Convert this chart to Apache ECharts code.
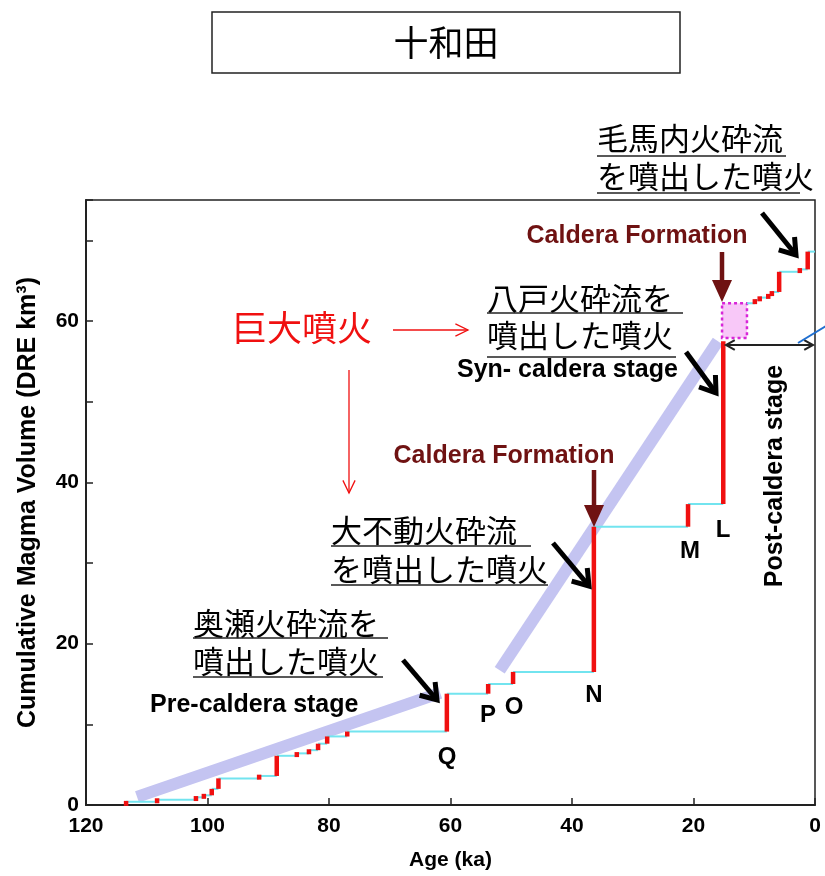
<!DOCTYPE html>
<html>
<head>
<meta charset="utf-8">
<script src="https://cdn.jsdelivr.net/npm/echarts@6/dist/echarts.min.js"></script>
<style>
html,body{margin:0;padding:0;background:#fff;}
#chart{width:825px;height:876px;}
</style>
</head>
<body>
<div id="chart"></div>
<script>
// ---- Data ----
// Pre-caldera + syn-caldera eruptions: age (ka) and cumulative volume after the eruption (DRE km3)
const preSynAges = [113.4, 108.3, 101.9, 100.6, 99.3, 98.2, 91.5, 88.6, 85.3, 83.3, 81.8, 80.3, 77.0, 60.6, 53.8, 49.7, 36.4, 20.9, 15.1];
const preSynVols = [0.4, 0.65, 0.95, 1.2, 2.0, 3.3, 3.6, 6.1, 6.4, 6.8, 7.6, 8.5, 9.1, 13.8, 15.0, 16.5, 34.5, 37.3, 57.5];
// Caldera formation uncertainty box
const boxAges = [15.3, 11.2];
const boxVols = [57.9, 62.2];
// Post-caldera eruptions
const postStartAge = 11.2;
const postStartVol = 62.2;
const postAges = [9.9, 9.1, 7.7, 7.1, 5.9, 2.5, 1.2];
const postVols = [62.6, 62.9, 63.2, 63.6, 66.1, 66.4, 68.6];
const endAge = 0;
// Trend lines
const preTrendAges = [111.6, 61.7];
const preTrendVols = [1.0, 13.9];
const synTrendAges = [51.9, 16.0];
const synTrendVols = [16.7, 57.5];
// Axis ticks
const xTickLabels = [120, 100, 80, 60, 40, 20, 0];
const yTickLabels = [0, 20, 40, 60];

// ---- Build segments ----
const redSegs = [];
const cyanSegs = [];
let prev = 0;
preSynAges.forEach((a, i) => {
  redSegs.push([a, prev, a, preSynVols[i]]);
  prev = preSynVols[i];
  if (i < preSynAges.length - 1) cyanSegs.push([a, preSynVols[i], preSynAges[i + 1], preSynVols[i]]);
});
cyanSegs.push([postStartAge, postStartVol, postAges[0], postStartVol]);
prev = postStartVol;
postAges.forEach((a, i) => {
  redSegs.push([a, prev, a, postVols[i]]);
  prev = postVols[i];
  const next = i < postAges.length - 1 ? postAges[i + 1] : endAge;
  cyanSegs.push([a, postVols[i], next, postVols[i]]);
});

function segRender(color, width, minLen) {
  return function (params, api) {
    const p1 = api.coord([api.value(0), api.value(1)]);
    const p2 = api.coord([api.value(2), api.value(3)]);
    let y1 = p1[1], y2 = p2[1];
    if (minLen && Math.abs(y2 - y1) < minLen) {
      const m = (y1 + y2) / 2;
      y1 = m + minLen / 2; y2 = m - minLen / 2;
    }
    return {type: 'line', shape: {x1: p1[0], y1: y1, x2: p2[0], y2: y2},
      style: {stroke: color, lineWidth: width, lineCap: 'butt'}};
  };
}

const LAT = "'Liberation Sans', Arial, sans-serif";
const JP = "'Noto Sans CJK JP', sans-serif";

// ---- annotation helpers ----
function chevron(tx, ty, fx, fy, len, ang, color, w) {
  const a = Math.atan2(ty - fy, tx - fx);
  const p1 = [tx - len * Math.cos(a - ang), ty - len * Math.sin(a - ang)];
  const p2 = [tx - len * Math.cos(a + ang), ty - len * Math.sin(a + ang)];
  return {type: 'polyline', shape: {points: [p1, [tx, ty], p2]},
    style: {stroke: color, lineWidth: w, fill: null, lineJoin: 'miter'}, z: 100};
}
function arrow(fx, fy, tx, ty, color, w, len, ang) {
  return [
    {type: 'line', shape: {x1: fx, y1: fy, x2: tx, y2: ty}, style: {stroke: color, lineWidth: w}, z: 100},
    chevron(tx, ty, fx, fy, len, ang, color, w)
  ];
}
function solidArrow(x, y1, y2, color) {
  return [
    {type: 'line', shape: {x1: x, y1: y1, x2: x, y2: y2 - 18}, style: {stroke: color, lineWidth: 4.5}, z: 100},
    {type: 'polygon', shape: {points: [[x - 10, y2 - 22], [x + 10, y2 - 22], [x, y2]]}, style: {fill: color}, z: 100}
  ];
}
function txt(x, y, s, font, color, align) {
  return {type: 'text', x: x, y: y, z: 100,
    style: {text: s, font: font, fill: color || '#000', align: align || 'left', verticalAlign: 'middle'}};
}
function uline(x1, x2, y) {
  return {type: 'line', shape: {x1: x1, y1: y, x2: x2, y2: y}, style: {stroke: '#222', lineWidth: 1.5}, z: 100};
}

const jpFont = '400 31px ' + JP;
const boldFont = 'bold 25px ' + LAT;
const letterFont = 'bold 24px ' + LAT;
const darkRed = '#6f1212';

const graphics = [
  {type: 'rect', shape: {x: 212, y: 12, width: 468, height: 61}, style: {stroke: '#222', lineWidth: 1.5, fill: null}, z: 100},
  txt(446, 43, '十和田', '400 35px ' + JP, '#000', 'center'),
  // 毛馬内
  txt(597, 138, '毛馬内火砕流', jpFont), uline(597, 786, 156),
  txt(597, 176, 'を噴出した噴火', jpFont), uline(597, 800, 193),
  ...arrow(762, 213, 796, 255, '#000', 5, 18, 0.6),
  // Caldera formation (right)
  txt(637, 236, 'Caldera Formation', 'bold 25px ' + LAT, darkRed, 'center'),
  ...solidArrow(722, 252, 302, darkRed),
  // 八戸
  txt(487, 298, '八戸火砕流を', jpFont), uline(487, 683, 313),
  txt(487, 335, '噴出した噴火', jpFont), uline(487, 676, 357),
  txt(457, 370, 'Syn- caldera stage', boldFont),
  ...arrow(686, 352, 716, 393, '#000', 5, 18, 0.6),
  // 巨大噴火
  txt(232, 328, '巨大噴火', '400 35px ' + JP, '#f01010'),
  ...arrow(393, 330, 468, 330, '#f01010', 1.3, 14, 0.45),
  ...arrow(349, 370, 349, 493, '#f01010', 1.3, 14, 0.45),
  // Caldera formation (middle)
  txt(504, 456, 'Caldera Formation', 'bold 25px ' + LAT, darkRed, 'center'),
  ...solidArrow(594, 470, 527, darkRed),
  // 大不動
  txt(331, 530, '大不動火砕流', jpFont), uline(331, 531, 546),
  txt(331, 569, 'を噴出した噴火', jpFont), uline(331, 548, 585),
  ...arrow(553, 543, 589, 586, '#000', 5, 18, 0.6),
  // 奥瀬
  txt(193, 623, '奥瀬火砕流を', jpFont), uline(193, 388, 638),
  txt(193, 661, '噴出した噴火', jpFont), uline(193, 383, 677),
  ...arrow(403, 660, 437, 700, '#000', 5, 18, 0.6),
  txt(150, 705, 'Pre-caldera stage', boldFont),
  // letters
  txt(447, 757, 'Q', letterFont, '#000', 'center'),
  txt(488, 715, 'P', letterFont, '#000', 'center'),
  txt(514, 707, 'O', letterFont, '#000', 'center'),
  txt(594, 695, 'N', letterFont, '#000', 'center'),
  txt(690, 551, 'M', letterFont, '#000', 'center'),
  txt(723, 530, 'L', letterFont, '#000', 'center'),
  // post caldera
  {type: 'text', x: 775, y: 476, rotation: Math.PI / 2, z: 100,
    style: {text: 'Post-caldera stage', font: boldFont, fill: '#000', align: 'center', verticalAlign: 'middle'}},
  ...arrow(740, 345, 726, 345, '#222', 2, 10, 0.5),
  ...arrow(730, 345, 813, 345, '#222', 2, 10, 0.5),
  {type: 'line', shape: {x1: 798, y1: 343, x2: 826, y2: 326}, style: {stroke: '#1f6fd0', lineWidth: 2}, z: 100}
];

const chart = echarts.init(document.getElementById('chart'), null, {renderer: 'canvas'});
chart.setOption({
  animation: false,
  backgroundColor: '#fff',
  grid: {left: 86, right: 10, top: 200, bottom: 56, show: true, borderColor: '#222', borderWidth: 1.5, backgroundColor: 'transparent'},
  xAxis: {
    type: 'value', inverse: true, min: 0, max: 120, interval: 20,
    name: 'Age (ka)', nameLocation: 'middle', nameGap: 45,
    nameTextStyle: {fontFamily: LAT, fontWeight: 'bold', fontSize: 21, color: '#000'},
    axisLine: {onZero: false, lineStyle: {color: '#222', width: 2}},
    axisTick: {inside: true, length: 7, lineStyle: {color: '#222', width: 1.5}},
    axisLabel: {fontFamily: LAT, fontWeight: 'bold', fontSize: 21, color: '#000', margin: 11,
      formatter: v => xTickLabels.includes(v) ? String(v) : ''},
    splitLine: {show: false}
  },
  yAxis: {
    type: 'value', min: 0, max: 75, interval: 10,
    name: 'Cumulative Magma Volume (DRE km³)', nameLocation: 'middle', nameGap: 45,
    nameTextStyle: {fontFamily: LAT, fontWeight: 'bold', fontSize: 25, color: '#000'},
    axisLine: {onZero: false, lineStyle: {color: '#222', width: 2}},
    axisTick: {inside: true, length: 7, lineStyle: {color: '#222', width: 1.5}},
    axisLabel: {fontFamily: LAT, fontWeight: 'bold', fontSize: 21, color: '#000', margin: 7,
      formatter: v => yTickLabels.includes(v) ? String(v) : ''},
    splitLine: {show: false}
  },
  series: [
    {type: 'line', data: preTrendAges.map((a, i) => [a, preTrendVols[i]]), symbol: 'none',
      lineStyle: {color: '#c4c4f1', width: 12, cap: 'butt'}, z: 1, silent: true},
    {type: 'line', data: synTrendAges.map((a, i) => [a, synTrendVols[i]]), symbol: 'none',
      lineStyle: {color: '#c4c4f1', width: 12, cap: 'butt'}, z: 1, silent: true},
    {type: 'custom', data: [[boxAges[0], boxVols[0], boxAges[1], boxVols[1]]], z: 2,
      encode: {x: [0, 2], y: [1, 3]},
      renderItem: function (params, api) {
        const p1 = api.coord([api.value(0), api.value(1)]);
        const p2 = api.coord([api.value(2), api.value(3)]);
        return {type: 'rect', shape: {x: Math.min(p1[0], p2[0]), y: Math.min(p1[1], p2[1]),
            width: Math.abs(p2[0] - p1[0]), height: Math.abs(p2[1] - p1[1])},
          style: {fill: '#f8c8f8', stroke: '#d825d8', lineWidth: 2.5, lineDash: [3, 3]}};
      }},
    {type: 'custom', data: cyanSegs, encode: {x: [0, 2], y: [1, 3]}, z: 3, renderItem: segRender('#72e4ef', 2, 0)},
    {type: 'custom', data: redSegs, encode: {x: [0, 2], y: [1, 3]}, z: 4, renderItem: segRender('#f01010', 4.5, 5)}
  ],
  graphic: graphics
});
</script>
</body>
</html>
